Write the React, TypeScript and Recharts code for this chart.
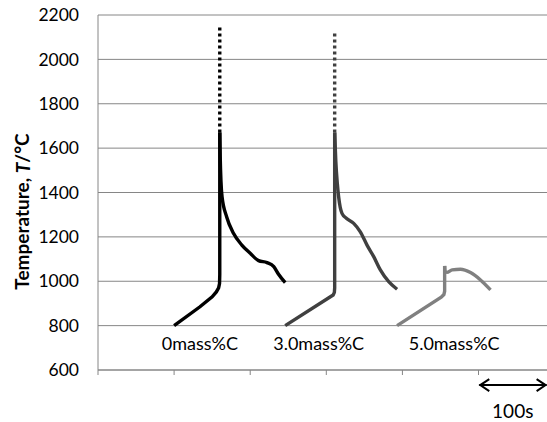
import { LineChart, Line, XAxis, YAxis, CartesianGrid, ReferenceDot, ReferenceLine } from "recharts";

// time in seconds (x), temperature in °C (T)
const xTicks = [0, 100, 200, 300, 400, 500];
const yTicks = [600, 800, 1000, 1200, 1400, 1600, 1800, 2000, 2200];

// 0 mass%C
const rise0 = [
  { t: 100, T: 800 },
  { t: 134, T: 885 },
  { t: 150, T: 930 },
  { t: 155.5, T: 952 },
  { t: 158.5, T: 970 },
  { t: 159.7, T: 990 },
  { t: 160, T: 1030 },
  { t: 160, T: 1670 },
];
const decay0 = [
  { t: 160, T: 1670 },
  { t: 160.6, T: 1560 },
  { t: 161.6, T: 1450 },
  { t: 163, T: 1381 },
  { t: 169, T: 1291 },
  { t: 178, T: 1216 },
  { t: 189, T: 1163 },
  { t: 200, T: 1126 },
  { t: 211, T: 1093 },
  { t: 222, T: 1084 },
  { t: 231, T: 1066 },
  { t: 237, T: 1033 },
  { t: 246, T: 994 },
];
const dots0 = [
  { t: 160, T: 1670 },
  { t: 160, T: 2145 },
];

// 3.0 mass%C
const rise3 = [
  { t: 246, T: 800 },
  { t: 309, T: 938 },
  { t: 310.6, T: 950 },
  { t: 311, T: 970 },
  { t: 311, T: 1670 },
];
const decay3 = [
  { t: 311, T: 1670 },
  { t: 312.5, T: 1540 },
  { t: 314.5, T: 1440 },
  { t: 316.2, T: 1381 },
  { t: 320.6, T: 1306 },
  { t: 326.3, T: 1284 },
  { t: 336, T: 1261 },
  { t: 344.7, T: 1223 },
  { t: 353.5, T: 1163 },
  { t: 362.3, T: 1111 },
  { t: 371, T: 1051 },
  { t: 382, T: 998 },
  { t: 393, T: 964 },
];
const dots3 = [
  { t: 311, T: 1670 },
  { t: 311, T: 2117 },
];

// 5.0 mass%C
const rise5 = [
  { t: 393, T: 800 },
  { t: 451, T: 928 },
  { t: 454.5, T: 940 },
  { t: 455.5, T: 955 },
  { t: 455.5, T: 1069 },
];
const decay5 = [
  { t: 455.5, T: 1069 },
  { t: 456, T: 1046 },
  { t: 458.5, T: 1040 },
  { t: 465.4, T: 1051 },
  { t: 476.3, T: 1054 },
  { t: 489.5, T: 1039 },
  { t: 502.6, T: 1006 },
  { t: 515.8, T: 961 },
];

const curveLabels = [
  { t: 134, T: 719, text: "0mass%C" },
  { t: 290, T: 719, text: "3.0mass%C" },
  { t: 468, T: 719, text: "5.0mass%C" },
];
// 100 s scale bar
const scaleBar = [
  { t: 501, T: 532 },
  { t: 589.5, T: 532 },
];
const scaleText = { t: 545, T: 415, text: "100s" };

const FONT = "Lato, 'Open Sans', sans-serif";
const GRID = "#868686";

function YLabel(props: any) {
  const vb = props.viewBox || { x: 0, y: 15, width: 98, height: 355 };
  const cx = vb.x + 21.5;
  const cy = vb.y + vb.height / 2 + 19;
  return (
    <text
      x={cx}
      y={cy}
      transform={`rotate(-90, ${cx}, ${cy})`}
      textAnchor="middle"
      dominantBaseline="central"
      fontFamily={FONT}
      fontWeight="bold"
      fontSize={19}
      fill="#000"
    >
      Temperature, <tspan fontStyle="italic">T</tspan>/°C
    </text>
  );
}

function ArrowShape(props: any) {
  const { x1, y1, x2, y2 } = props;
  const h = 10;
  const w = 6;
  return (
    <g stroke="#000" strokeWidth={2} fill="none">
      <line x1={x1} y1={y1} x2={x2} y2={y2} />
      <polyline points={`${x1 + h},${y1 - w} ${x1 + 1},${y1} ${x1 + h},${y1 + w}`} />
      <polyline points={`${x2 - h},${y2 - w} ${x2 - 1},${y2} ${x2 - h},${y2 + w}`} />
    </g>
  );
}

function solid(data: any[], color: string, type: any, key: string) {
  return (
    <Line
      key={key}
      data={data}
      dataKey="T"
      type={type}
      stroke={color}
      strokeWidth={3.4}
      dot={false}
      activeDot={false}
      isAnimationActive={false}
    />
  );
}

function dotted(data: any[], color: string, key: string) {
  return (
    <Line
      key={key}
      data={data}
      dataKey="T"
      type="linear"
      stroke={color}
      strokeWidth={3.4}
      strokeDasharray="3 3"
      dot={false}
      activeDot={false}
      isAnimationActive={false}
    />
  );
}

export default function App() {
  return (
    <div style={{ position: "absolute", left: 0, top: 0, background: "#fff" }}>
      <LineChart width={547} height={422} margin={{ top: 15, right: 0, bottom: 0, left: 0 }}>
        <CartesianGrid vertical={false} stroke={GRID} strokeWidth={1} />
        <XAxis
          dataKey="t"
          type="number"
          domain={[0, 590]}
          ticks={xTicks}
          height={52}
          stroke={GRID}
          tickSize={5}
          tickFormatter={() => ""}
        />
        <YAxis
          type="number"
          domain={[600, 2200]}
          ticks={yTicks}
          width={98}
          stroke={GRID}
          tickLine={false}
          tickSize={0}
          tickMargin={19}
          tick={{ fill: "#000", fontSize: 17.5, fontFamily: FONT }}
          label={{ content: (p: any) => <YLabel {...p} /> }}
        />
        {dotted(dots0, "#000000", "d0")}
        {dotted(dots3, "#404040", "d3")}
        {solid(rise0, "#000000", "linear", "r0")}
        {solid(decay0, "#000000", "monotone", "c0")}
        {solid(rise3, "#404040", "linear", "r3")}
        {solid(decay3, "#404040", "monotone", "c3")}
        {solid(rise5, "#808080", "linear", "r5")}
        {solid(decay5, "#808080", "monotone", "c5")}
        <ReferenceLine
          segment={scaleBar.map((p) => ({ x: p.t, y: p.T }))}
          ifOverflow="visible"
          shape={(p: any) => <ArrowShape {...p} />}
        />
        {curveLabels.map((l) => (
          <ReferenceDot
            key={l.text}
            x={l.t}
            y={l.T}
            r={0}
            fill="none"
            stroke="none"
            ifOverflow="visible"
            label={{ value: l.text, position: "center", fill: "#000", fontSize: 18, fontFamily: FONT }}
          />
        ))}
        <ReferenceDot
          x={scaleText.t}
          y={scaleText.T}
          r={0}
          fill="none"
          stroke="none"
          ifOverflow="visible"
          label={{ value: scaleText.text, position: "center", fill: "#000", fontSize: 19, fontFamily: FONT }}
        />
      </LineChart>
    </div>
  );
}
